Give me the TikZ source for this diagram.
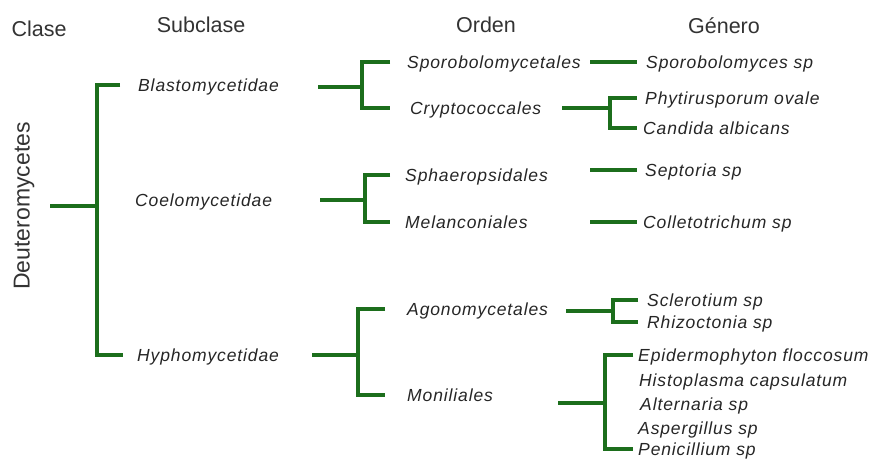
\documentclass[tikz,border=0pt]{standalone}
\usepackage{fontspec}
\setmainfont{Liberation Sans}
\newfontfamily\labfont[LetterSpace=5]{Liberation Sans}
\definecolor{brgreen}{RGB}{28,110,28}
\tikzset{
  br/.style={draw=brgreen, line width=4.5pt, line join=miter},
  lab/.style={anchor=west, inner sep=0pt, text height=12.6pt, text depth=0pt,
              font=\labfont\itshape\fontsize{17.5}{20}\selectfont, text=black!85},
  head/.style={anchor=base, inner sep=0pt, font=\fontsize{21.5}{24}\selectfont, text=black!80},
}
\begin{document}
\begin{tikzpicture}[x=1pt, y=-1pt]
\fill[white] (0,0) rectangle (870,459);
\useasboundingbox (0,0) rectangle (870,459);

% headers
\node[head] (hclase) at (39,36) {Clase};
\node[head] (hsub) at (201,32) {Subclase};
\node[head] (hord) at (486,32) {Orden};
\node[head] (hgen) at (724,33) {Género};

% class
\node[inner sep=0pt, rotate=90, font=\fontsize{23}{26}\selectfont, text=black!80] (deut) at (24,206) {Deuteromycetes};

% subclasses
\node[lab] (blast) at (138,85) {Blastomycetidae};
\node[lab] (coelo) at (135,200) {Coelomycetidae};
\node[lab] (hyph) at (137,355) {Hyphomycetidae};

% orders
\node[lab] (sporo) at (407,62) {Sporobolomycetales};
\node[lab] (crypto) at (410,108) {Cryptococcales};
\node[lab] (sphae) at (405,175) {Sphaeropsidales};
\node[lab] (melan) at (405,222) {Melanconiales};
\node[lab] (agono) at (407,309) {Agonomycetales};
\node[lab] (monil) at (407,395) {Moniliales};

% genera
\node[lab] (gspor) at (646,62) {Sporobolomyces sp};
\node[lab] (gphyt) at (645,98) {Phytirusporum ovale};
\node[lab] (gcand) at (643,128) {Candida albicans};
\node[lab] (gsept) at (645,170) {Septoria sp};
\node[lab] (gcoll) at (643,222) {Colletotrichum sp};
\node[lab] (gscle) at (647,300) {Sclerotium sp};
\node[lab] (grhiz) at (647,322) {Rhizoctonia sp};
\node[lab] (gepid) at (638,355) {Epidermophyton floccosum};
\node[lab] (ghist) at (639,380) {Histoplasma capsulatum};
\node[lab] (galte) at (640,404) {Alternaria sp};
\node[lab] (gaspe) at (638,428) {Aspergillus sp};
\node[lab] (gpeni) at (638,449) {Penicillium sp};

% junction coordinates
\coordinate (c0) at (50,206);  \coordinate (j0) at (97,206);
\coordinate (s1) at (318,87);  \coordinate (j1) at (362,87);
\coordinate (s2) at (320,200); \coordinate (j2) at (365,200);
\coordinate (s3) at (312,355); \coordinate (j3) at (358,355);
\coordinate (g1) at (590,62);
\coordinate (s4) at (562,108); \coordinate (j4) at (610,108);
\coordinate (g2) at (590,170);
\coordinate (g3) at (590,222);
\coordinate (s5) at (566,311); \coordinate (j5) at (613,311);
\coordinate (s6) at (558,403); \coordinate (j6) at (605,403);

% class -> subclasses
\draw[br] (c0) -- (j0);
\draw[br] ([xshift=-18pt]blast.west) -| (j0) |- ([xshift=-14pt]hyph.west);

% subclasses -> orders
\draw[br] (s1) -- (j1);
\draw[br] ([xshift=-17pt]sporo.west) -| (j1) |- ([xshift=-20pt]crypto.west);
\draw[br] (s2) -- (j2);
\draw[br] ([xshift=-15pt]sphae.west) -| (j2) |- ([xshift=-15pt]melan.west);
\draw[br] (s3) -- (j3);
\draw[br] ([xshift=-22pt]agono.west) -| (j3) |- ([xshift=-22pt]monil.west);

% orders -> genera
\draw[br] (g1) -- ([xshift=-9pt]gspor.west);
\draw[br] (s4) -- (j4);
\draw[br] ([xshift=-8pt]gphyt.west) -| (j4) |- ([xshift=-6pt]gcand.west);
\draw[br] (g2) -- ([xshift=-8pt]gsept.west);
\draw[br] (g3) -- ([xshift=-6pt]gcoll.west);
\draw[br] (s5) -- (j5);
\draw[br] ([xshift=-9pt]gscle.west) -| (j5) |- ([xshift=-9pt]grhiz.west);
\draw[br] (s6) -- (j6);
\draw[br] ([xshift=-5pt]gepid.west) -| (j6) |- ([xshift=-5pt]gpeni.west);
\end{tikzpicture}
\end{document}
